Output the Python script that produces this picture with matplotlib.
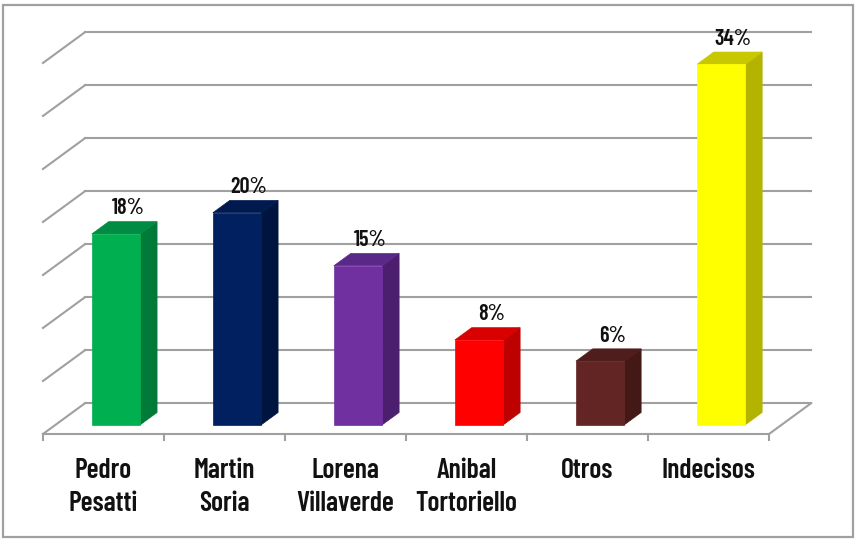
import matplotlib
matplotlib.use("Agg")
import matplotlib.pyplot as plt
from matplotlib.patches import Polygon, Rectangle
import numpy as np

# ── Data ───────────────────────────────────────────────────────────────────
categories = ["Pedro\nPesatti", "Martin\nSoria", "Lorena\nVillaverde",
              "Anibal\nTortoriello", "Otros", "Indecisos"]
values     = [18, 20, 15, 8, 6, 34]
value_labels = ["18%", "20%", "15%", "8%", "6%", "34%"]
grid_ticks = [0, 5, 10, 15, 20, 25, 30, 35]

# front / side / top colours per bar
front_clr = ["#00b050", "#002060", "#7030a0", "#ff0000", "#632523", "#ffff00"]
side_clr  = ["#007a38", "#001440", "#4b1f6e", "#bf0000", "#431816", "#b3b300"]
top_clr   = ["#008c42", "#001a50", "#5a2888", "#d80000", "#4f1d1b", "#c8c800"]

# ── Oblique projection settings (data units) ──────────────────────────────
DX, DY = 0.347, 2.9      # shift of the back wall vs. front
D0, D1 = 0.30, 0.70      # bar depth span
BW     = 0.40            # bar width
GRID   = "#a0a0a0"
TEXT   = "#111111"
FONT   = dict(family=["Barlow Condensed", "DejaVu Sans"], fontweight="semibold")

n = len(categories)

def proj(x, v, d):
    return (x + d * DX, v + d * DY)

fig = plt.figure(figsize=(8.62, 5.47), dpi=100)
ax = fig.add_axes([0, 0, 1, 1])
ax.set_xlim(-0.855, 6.268)
ax.set_ylim(-10.66, 40.94)
ax.axis("off")

# outer frame
fig.patches.append(Rectangle((3 / 862, 10 / 547), 850 / 862, 532 / 547,
                             transform=fig.transFigure, fill=False,
                             edgecolor="#a0a0a0", linewidth=1.6))

# back-wall gridlines + side-wall diagonals
x_left, x_right = -0.5, n - 0.5
for g in grid_ticks:
    bx0, by = proj(x_left, g, 1)
    bx1, _ = proj(x_right, g, 1)
    ax.plot([bx0, bx1], [by, by], color=GRID, lw=1.5, zorder=1)
    ax.plot([x_left, bx0], [g, by], color=GRID, lw=1.5, zorder=1)

# floor: front edge + right diagonal + tick marks
ax.plot([x_left, x_right], [0, 0], color=GRID, lw=1.5, zorder=1)
rx, ry = proj(x_right, 0, 1)
ax.plot([x_right, rx], [0, ry], color=GRID, lw=1.5, zorder=1)
for k in range(n + 1):
    xt = x_left + k
    ax.plot([xt, xt], [0, -0.6], color=GRID, lw=1.5, zorder=1)

# bars
for i, (v, fc, sc, tc) in enumerate(zip(values, front_clr, side_clr, top_clr)):
    xl, xr = i - BW / 2, i + BW / 2
    front = [proj(xl, 0, D0), proj(xr, 0, D0), proj(xr, v, D0), proj(xl, v, D0)]
    side = [proj(xr, 0, D0), proj(xr, 0, D1), proj(xr, v, D1), proj(xr, v, D0)]
    top = [proj(xl, v, D0), proj(xr, v, D0), proj(xr, v, D1), proj(xl, v, D1)]
    for pts, c in ((side, sc), (top, tc), (front, fc)):
        ax.add_patch(Polygon(pts, closed=True, facecolor=c, edgecolor=c,
                             lw=0.5, zorder=3))
    lx, ly = proj(i, v, D1)
    ax.text(lx - 0.04, ly + 0.3, value_labels[i], ha="center", va="bottom",
            fontsize=16, color=TEXT, zorder=4, **FONT)

# category labels
for i, lab in enumerate(categories):
    ax.text(i, -2.3, lab, ha="center", va="top", fontsize=20,
            color=TEXT, linespacing=1.4, **FONT)

fig.savefig("out.png", dpi=100, facecolor="white")
plt.close(fig)
